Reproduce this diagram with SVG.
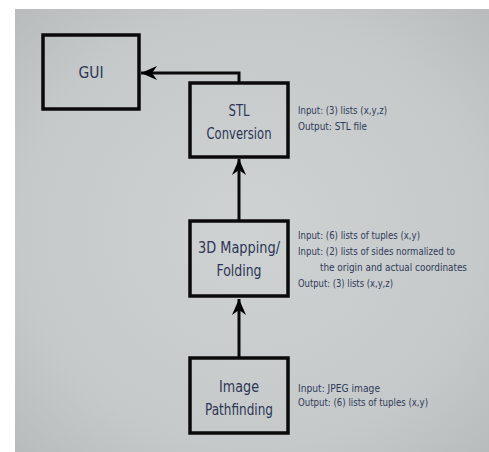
<svg xmlns="http://www.w3.org/2000/svg" width="489" height="452" viewBox="0 0 489 452">
<defs>
<radialGradient id="bg" cx="0.5" cy="0.5" r="0.7">
<stop offset="0" stop-color="#ced2d3"/>
<stop offset="0.7" stop-color="#c5c9ca"/>
<stop offset="1" stop-color="#b8bcbd"/>
</radialGradient>
<marker id="ah" markerUnits="userSpaceOnUse" markerWidth="18" markerHeight="16" refX="16" refY="7" orient="auto">
<path d="M0,0 L16,7 L0,14 L5,7 z" fill="#000"/>
</marker>
<style>
.box{fill:none;stroke:#0a0a0a;stroke-width:3.5}
.lbl{font-family:"Liberation Sans Narrow","DejaVu Sans Condensed","Liberation Sans",sans-serif;font-size:16px;fill:#2c3554;text-anchor:middle}
.note{font-family:"Liberation Sans Narrow","DejaVu Sans Condensed","Liberation Sans",sans-serif;font-size:10.5px;fill:#2f3a5a}
.conn{fill:none;stroke:#0a0a0a;stroke-width:3}
</style>
</defs>
<rect x="15" y="9" width="474" height="443" fill="url(#bg)"/>
<g id="connectors">
<path class="conn" d="M239,83 V73 H141" marker-end="url(#ah)"/>
<path class="conn" d="M239,220 V159" marker-end="url(#ah)"/>
<path class="conn" d="M239,357 V299" marker-end="url(#ah)"/>
</g>
<g id="gui">
<rect class="box" x="43" y="35" width="96" height="74"/>
<text class="lbl" x="91" y="78" textLength="25" lengthAdjust="spacingAndGlyphs">GUI</text>
</g>
<g id="stl">
<rect class="box" x="190" y="83" width="98" height="74"/>
<text class="lbl" x="239" y="116" textLength="21" lengthAdjust="spacingAndGlyphs">STL</text>
<text class="lbl" x="239" y="139" textLength="65" lengthAdjust="spacingAndGlyphs">Conversion</text>
<text class="note" x="298" y="114" textLength="89" lengthAdjust="spacingAndGlyphs">Input: (3) lists (x,y,z)</text>
<text class="note" x="298" y="130" textLength="69" lengthAdjust="spacingAndGlyphs">Output: STL file</text>
</g>
<g id="mapping">
<rect class="box" x="190" y="221" width="98" height="75"/>
<text class="lbl" x="239" y="253" textLength="82" lengthAdjust="spacingAndGlyphs">3D Mapping/</text>
<text class="lbl" x="239" y="276" textLength="45" lengthAdjust="spacingAndGlyphs">Folding</text>
<text class="note" x="298" y="239" textLength="122" lengthAdjust="spacingAndGlyphs">Input: (6) lists of tuples (x,y)</text>
<text class="note" x="298" y="255" textLength="157" lengthAdjust="spacingAndGlyphs">Input: (2) lists of sides normalized to</text>
<text class="note" x="320" y="271" textLength="147" lengthAdjust="spacingAndGlyphs">the origin and actual coordinates</text>
<text class="note" x="298" y="287" textLength="95" lengthAdjust="spacingAndGlyphs">Output: (3) lists (x,y,z)</text>
</g>
<g id="pathfinding">
<rect class="box" x="190" y="358" width="98" height="75"/>
<text class="lbl" x="239" y="392" textLength="40" lengthAdjust="spacingAndGlyphs">Image</text>
<text class="lbl" x="239" y="415" textLength="68" lengthAdjust="spacingAndGlyphs">Pathfinding</text>
<text class="note" x="298" y="392" textLength="82" lengthAdjust="spacingAndGlyphs">Input: JPEG image</text>
<text class="note" x="298" y="406" textLength="130" lengthAdjust="spacingAndGlyphs">Output: (6) lists of tuples (x,y)</text>
</g>
</svg>
